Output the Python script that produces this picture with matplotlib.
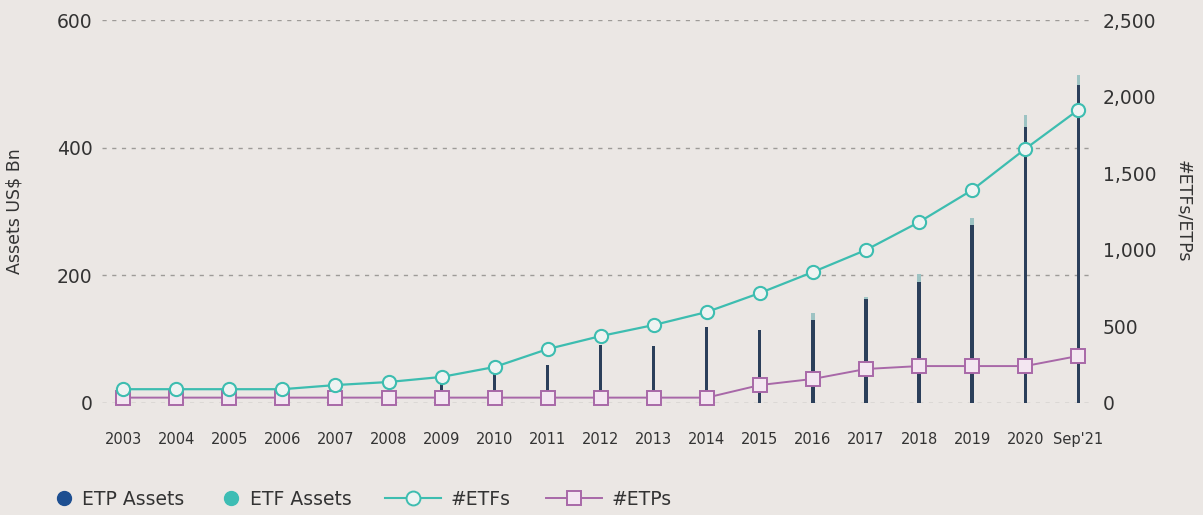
import matplotlib.pyplot as plt
from matplotlib.lines import Line2D
import numpy as np

plt.rcParams['font.family'] = ['DejaVu Sans']

years = ['2003', '2004', '2005', '2006', '2007', '2008', '2009', '2010', '2011',
         '2012', '2013', '2014', '2015', '2016', '2017', '2018', '2019', '2020', "Sep'21"]

# assets, US$ Bn (left axis)
etp_assets = [3, 5, 7, 9, 15, 18, 33, 56, 60, 91, 90, 119, 114, 130, 163, 190, 279, 433, 498]
etf_assets = [0, 0, 0, 0, 0, 0, 0, 0, 0, 0, 0, 0, 0, 11, 3, 12, 11, 18, 16]

# product counts (right axis)
n_etfs = [90, 90, 90, 90, 117, 137, 170, 235, 352, 437, 509, 594, 718, 855, 999, 1181, 1390, 1658, 1913]
n_etps = [35, 35, 35, 35, 35, 35, 35, 35, 35, 35, 35, 35, 117, 157, 222, 241, 241, 241, 307]

bg = '#ebe7e4'
txt = '#333333'
navy = '#2b3f5a'
etp_dot = '#1d4f91'
etf_dot = '#3dbdb4'
teal = '#3dbdb0'
purple = '#a868a8'

fig = plt.figure(figsize=(12.03, 5.15), dpi=100, facecolor=bg)
ax = fig.add_axes([0.085, 0.2175, 0.8236, 0.7436], facecolor=bg)
x = np.arange(len(years))

ax.bar(x, etp_assets, width=0.06, color=navy, zorder=2)
ax.bar(x, etf_assets, bottom=etp_assets, width=0.06, color='#9dc3c3', zorder=2)

ax.set_ylim(0, 600)
ax.set_yticks([0, 200, 400, 600])
ax.set_xlim(-0.396, 18.28)
ax.set_xticks(x)
ax.set_xticklabels(years)
ax.grid(axis='y', color='#9e9b98', linestyle=(0, (3, 4)), linewidth=1)
ax.set_axisbelow(True)
for s in ax.spines.values():
    s.set_visible(False)
ax.tick_params(axis='y', length=0, pad=7, labelsize=13.5, labelcolor=txt)
ax.tick_params(axis='x', length=0, pad=21, labelsize=10.5, labelcolor=txt)
ax.set_ylabel('Assets US$ Bn', fontsize=12.5, color=txt, labelpad=24)

ax2 = ax.twinx()
ax2.set_ylim(0, 2500)
ax2.set_yticks([0, 500, 1000, 1500, 2000, 2500])
ax2.set_yticklabels(['0', '500', '1,000', '1,500', '2,000', '2,500'])
for s in ax2.spines.values():
    s.set_visible(False)
ax2.tick_params(axis='y', length=0, pad=7, labelsize=13.5, labelcolor=txt)
ax2.set_ylabel('#ETFs/ETPs', fontsize=12.5, color=txt, rotation=270, labelpad=26)

ax2.plot(x, n_etfs, color=teal, lw=1.6, marker='o', markersize=9.5,
         markerfacecolor='#eef3f2', markeredgecolor=teal, markeredgewidth=1.5,
         clip_on=False, zorder=4)
ax2.plot(x, n_etps, color=purple, lw=1.4, marker='s', markersize=10,
         markerfacecolor='#f3e6f1', markeredgecolor=purple, markeredgewidth=1.4,
         clip_on=False, zorder=3)

# legend: dots and line markers need different handle lengths
dot_handles = [
    Line2D([], [], ls='none', marker='o', markersize=10, color=etp_dot),
    Line2D([], [], ls='none', marker='o', markersize=10, color=etf_dot),
]
line_handles = [
    Line2D([], [], color=teal, lw=1.5, marker='o', markersize=10,
           markerfacecolor='#eef3f2', markeredgewidth=1.4),
    Line2D([], [], color=purple, lw=1.4, marker='s', markersize=10.5,
           markerfacecolor='#f3e6f1', markeredgewidth=1.4),
]
fig.legend(dot_handles, ['ETP Assets', 'ETF Assets'], loc='center left',
           bbox_to_anchor=(0.031, 0.03), ncol=2, frameon=False, fontsize=13.5,
           labelcolor=txt, handlelength=1.0, handletextpad=0.5, columnspacing=2.0)
fig.legend(line_handles, ['#ETFs', '#ETPs'], loc='center left',
           bbox_to_anchor=(0.306, 0.03), ncol=2, frameon=False, fontsize=13.5,
           labelcolor=txt, handlelength=3.0, handletextpad=0.5, columnspacing=1.9)

fig.savefig('out.png', dpi=100, facecolor=bg)
